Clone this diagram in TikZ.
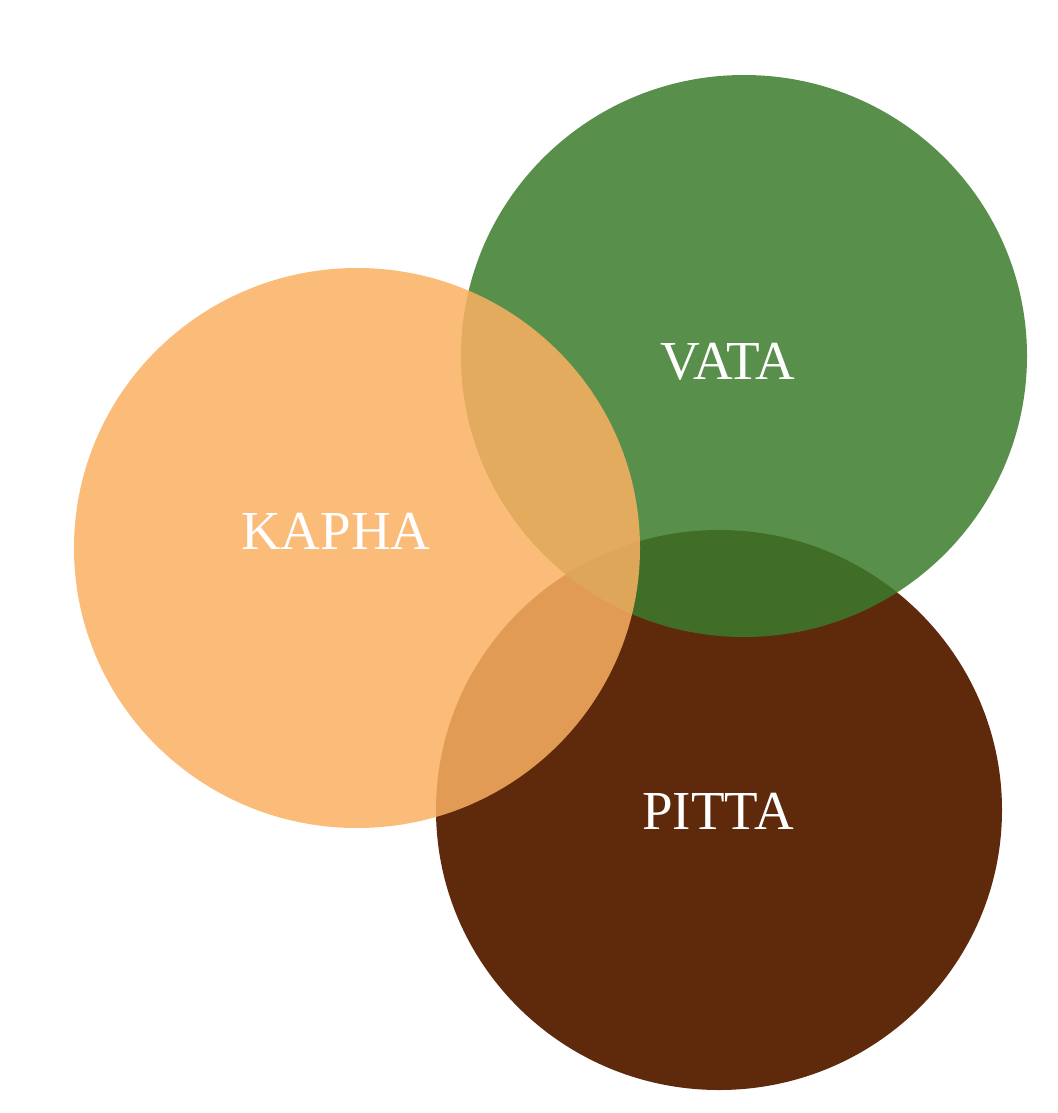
\documentclass[tikz,border=0pt]{standalone}
\usepackage{fontspec}
\setmainfont{Liberation Serif}
\definecolor{vatagreen}{RGB}{59,123,44}
\definecolor{kaphaorange}{RGB}{250,176,97}
\definecolor{pittabrown}{RGB}{95,41,12}
\begin{document}
\begin{tikzpicture}[x=1pt, y=-1pt,
  every node/.style={text = white, font = \fontsize{55}{60}\selectfont},
  dosha/.style={fill opacity = 0.85}]
\useasboundingbox (0,0) rectangle (1057,1113);
\fill[pittabrown] (719,810) ellipse [x radius = 283, y radius = 280];
\fill[vatagreen, dosha] (744,356) ellipse [x radius = 283, y radius = 281];
\fill[kaphaorange, dosha] (357,548) ellipse [x radius = 283, y radius = 280];

\node at (728,362) (V) {VATA};
\node at (336,531) (K) {KAPHA};
\node at (718,811) (P) {PITTA};
\end{tikzpicture}
\end{document}
